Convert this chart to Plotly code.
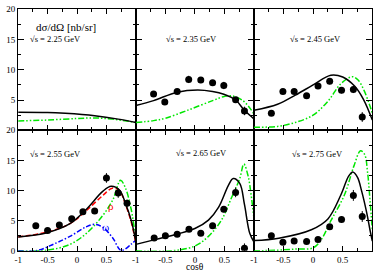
import plotly.graph_objects as go

# ---------------- data ----------------
energies = ["2.25", "2.35", "2.45", "2.55", "2.65", "2.75"]

# data points (cos theta, dsigma/dOmega, error)
pts2_x = [-0.70, -0.51, -0.30, -0.105, 0.10, 0.30, 0.49, 0.69, 0.84]
pts2_y = [6.0, 4.67, 6.4, 8.4, 8.3, 7.85, 7.4, 5.05, 3.2]
pts2_e = [0.4, 0.4, 0.4, 0.6, 0.5, 0.4, 0.6, 0.4, 0.7]

pts3_x = [-0.705, -0.51, -0.32, -0.11, 0.083, 0.28, 0.48, 0.68, 0.83]
pts3_y = [2.8, 6.4, 6.4, 5.7, 7.3, 8.1, 6.6, 6.75, 2.2]
pts3_e = [0.4, 0.4, 0.4, 0.4, 0.4, 0.5, 0.5, 0.6, 0.8]

pts4_x = [-0.70, -0.50, -0.30, -0.09, 0.10, 0.30, 0.50, 0.70, 0.85]
pts4_y = [4.16, 3.36, 4.27, 5.33, 6.5, 6.6, 12.1, 9.6, 7.9]
pts4_e = [0.3, 0.3, 0.3, 0.4, 0.4, 0.4, 0.8, 0.8, 0.6]

pts5_x = [-0.69, -0.50, -0.30, -0.10, 0.10, 0.30, 0.49, 0.69, 0.84]
pts5_y = [2.13, 2.5, 2.77, 3.6, 2.9, 4.16, 6.9, 9.7, 0.43]
pts5_e = [0.3, 0.3, 0.3, 0.4, 0.4, 0.4, 0.5, 0.8, 0.8]

pts6_x = [-0.705, -0.51, -0.32, -0.11, 0.083, 0.28, 0.48, 0.68, 0.83]
pts6_y = [2.5, 1.44, 1.65, 1.55, 1.87, 4.0, 5.2, 9.2, 5.7]
pts6_e = [0.3, 0.3, 0.3, 0.3, 0.3, 0.4, 0.5, 0.9, 0.9]

# model curves
blk1_x = [-1, -0.5, -0.2, 0.3, 0.7, 1]
blk1_y = [3.0, 2.95, 2.8, 2.4, 1.85, 1.3]
grn1_x = [-1, -0.5, 0, 0.3, 0.6, 1]
grn1_y = [1.55, 1.7, 1.95, 2.05, 1.85, 1.3]

blk2_x = [-1, -0.7, -0.3, 0.05, 0.3, 0.49, 0.69, 0.84, 1]
blk2_y = [4.1, 4.9, 6.3, 6.65, 6.4, 5.95, 5.0, 3.3, 1.9]
grn2_x = [-1, -0.7, -0.5, -0.1, 0.3, 0.5, 0.62, 0.8, 0.93, 1]
grn2_y = [1.3, 1.6, 2.0, 3.4, 4.9, 5.6, 5.7, 5.0, 3.7, 2.7]

blk3_x = [-1, -0.6, -0.3, 0, 0.3, 0.5, 0.7, 0.85, 1]
blk3_y = [3.3, 4.3, 5.8, 7.5, 9.1, 8.8, 7.3, 5.1, 1.7]
grn3_x = [-1, -0.6, -0.3, 0, 0.25, 0.47, 0.66, 0.76, 0.86, 0.95, 1]
grn3_y = [0.5, 0.65, 1.3, 2.5, 4.8, 7.7, 8.85, 8.3, 6.6, 4.3, 2.8]

blk4_x = [-1, -0.51, -0.12, 0.16, 0.44, 0.58, 0.72, 0.83, 0.92, 1]
blk4_y = [2.3, 3.0, 4.5, 6.9, 9.9, 10.7, 10.1, 7.7, 5.1, 1.5]
red4_x = [-1, -0.51, -0.12, 0.16, 0.44, 0.6, 0.72, 0.83, 0.92, 1]
red4_y = [2.3, 3.1, 4.5, 6.7, 9.2, 10.4, 10.0, 7.5, 4.8, 1.3]
blu4_x = [-1, -0.68, -0.4, -0.12, 0.16, 0.3, 0.44, 0.61, 0.75, 0.92, 1]
blu4_y = [0, 0.05, 1.1, 2.4, 4.0, 4.4, 3.9, 2.1, 0.05, 1.1, 1.8]
grn4_x = [-1, -0.51, -0.12, 0.16, 0.44, 0.61, 0.74, 0.82, 0.92, 1]
grn4_y = [0, 0.1, 1.07, 2.9, 5.9, 8.5, 11.7, 10.5, 6.9, 1.8]

blk5_x = [-1, -0.66, -0.33, 0.0, 0.23, 0.4, 0.57, 0.65, 0.76, 0.84, 0.93, 1]
blk5_y = [1.07, 1.9, 2.7, 3.7, 5.1, 7.2, 10.9, 12.0, 11.2, 7.7, 2.9, 1.5]
grn5_x = [-1, -0.39, 0.0, 0.23, 0.45, 0.62, 0.76, 0.83, 0.9, 0.95, 1]
grn5_y = [0, 0, 0.8, 2.4, 5.1, 8.8, 12.0, 14.4, 12.5, 9.5, 5.5]

blk6_x = [-1, -0.58, -0.03, 0.25, 0.47, 0.6, 0.67, 0.75, 0.82, 0.91, 0.96, 1]
blk6_y = [1.7, 2.1, 3.5, 5.3, 9.3, 12.4, 13.1, 12.2, 9.9, 6.1, 3.5, 1.6]
grn6_x = [-1, -0.6, -0.3, 0, 0.14, 0.3, 0.53, 0.69, 0.8, 0.87, 0.92, 0.96, 1]
grn6_y = [0, 0.1, 0.3, 0.5, 1.9, 5.0, 9.3, 14.1, 16.6, 16.0, 13.0, 8.5, 3.5]

x_tickvals = [-1, -0.5, 0, 0.5, 1]
x_ticktext_mid = ["-1", "-0.5", "0", "0.5", ""]
x_ticktext_last = ["-1", "-0.5", "0", "0.5", "1"]
y_tickvals = [0, 5, 10, 15, 20]
y_ticktext_top = ["", "5", "10", "15", "20"]
y_ticktext_bot = ["0", "5", "10", "15", "20"]

# ---------------- figure ----------------
FONT = "Liberation Serif, Times New Roman, serif"
GREEN = "#00e600"
GDASH = "6px,2px,1.5px,2px,1.5px,2px"
BDASH = "5px,2px,1.5px,2px"
RDASH = "5px,2.5px"

curves = [
    [(grn1_x, grn1_y, GREEN, GDASH), (blk1_x, blk1_y, "black", "solid")],
    [(grn2_x, grn2_y, GREEN, GDASH), (blk2_x, blk2_y, "black", "solid")],
    [(grn3_x, grn3_y, GREEN, GDASH), (blk3_x, blk3_y, "black", "solid")],
    [(grn4_x, grn4_y, GREEN, GDASH), (blu4_x, blu4_y, "#0000ff", BDASH),
     (red4_x, red4_y, "#ff0000", RDASH), (blk4_x, blk4_y, "black", "solid")],
    [(grn5_x, grn5_y, GREEN, GDASH), (blk5_x, blk5_y, "black", "solid")],
    [(grn6_x, grn6_y, GREEN, GDASH), (blk6_x, blk6_y, "black", "solid")],
]
points = [None,
          (pts2_x, pts2_y, pts2_e),
          (pts3_x, pts3_y, pts3_e),
          (pts4_x, pts4_y, pts4_e),
          (pts5_x, pts5_y, pts5_e),
          (pts6_x, pts6_y, pts6_e)]

W, H = 374, 278
xdom = [[14.3 / W, 133.3 / W], [133.3 / W, 252.6 / W], [252.6 / W, 372.3 / W]]
ydom = [[1 - 130 / H, 1 - 4.3 / H], [1 - 255 / H, 1 - 130 / H]]

fig = go.Figure()
for i in range(6):
    xa = "x" if i == 0 else f"x{i+1}"
    ya = "y" if i == 0 else f"y{i+1}"
    for cx, cy, col, dash in curves[i]:
        fig.add_trace(go.Scatter(x=cx, y=cy, xaxis=xa, yaxis=ya, mode="lines",
                                 line=dict(color=col, width=1.5, dash=dash, shape="spline", smoothing=1.0),
                                 showlegend=False, hoverinfo="skip"))
    if points[i] is not None:
        px, py, pe = points[i]
        fig.add_trace(go.Scatter(x=px, y=py, xaxis=xa, yaxis=ya, mode="markers",
                                 marker=dict(color="black", size=7),
                                 error_y=dict(type="data", array=pe, color="black", thickness=1, width=0),
                                 showlegend=False, hoverinfo="skip"))

layout = dict(width=W, height=H, margin=dict(l=0, r=0, t=0, b=0),
              paper_bgcolor="white", plot_bgcolor="white",
              font=dict(family=FONT, size=9, color="black"))
for i in range(6):
    row, col = divmod(i, 3)
    xk = "xaxis" if i == 0 else f"xaxis{i+1}"
    yk = "yaxis" if i == 0 else f"yaxis{i+1}"
    xa = "x" if i == 0 else f"x{i+1}"
    ya = "y" if i == 0 else f"y{i+1}"
    layout[xk] = dict(domain=xdom[col], anchor=ya, range=[-1, 1],
                      showgrid=False, zeroline=False, showline=True, linecolor="black", linewidth=1,
                      mirror="ticks", ticks="inside", ticklen=5, tickcolor="black",
                      tickvals=x_tickvals,
                      ticktext=(x_ticktext_last if col == 2 else x_ticktext_mid),
                      showticklabels=(row == 1),
                      tickfont=dict(family=FONT, size=9),
                      minor=dict(ticks="inside", dtick=0.25, tick0=-1, ticklen=3, tickcolor="black"))
    layout[yk] = dict(domain=ydom[row], anchor=xa, range=[0, 20],
                      showgrid=False, zeroline=False, showline=True, linecolor="black", linewidth=1,
                      mirror="ticks", ticks="inside", ticklen=6, tickcolor="black",
                      tickvals=y_tickvals,
                      ticktext=(y_ticktext_top if row == 0 else y_ticktext_bot),
                      showticklabels=(col == 0),
                      tickfont=dict(family=FONT, size=9),
                      minor=dict(ticks="inside", dtick=2.5, tick0=0, ticklen=3, tickcolor="black"))
fig.update_layout(**layout)

label_pos = [(-0.37, 15.1), (-0.05, 15.1), (0.045, 15.1), (-0.37, 16.0), (0.12, 16.3), (0.08, 16.0)]
for i, e in enumerate(energies):
    xa = "x" if i == 0 else f"x{i+1}"
    ya = "y" if i == 0 else f"y{i+1}"
    lx, ly = label_pos[i]
    fig.add_annotation(x=lx, y=ly, xref=xa, yref=ya, text=f"√s = {e} GeV", showarrow=False,
                       xanchor="center", yanchor="middle",
                       font=dict(family=FONT, size=8.5, color="black"))

fig.add_annotation(x=-0.18, y=17.0, xref="x", yref="y", text="dσ/dΩ [nb/sr]", showarrow=False,
                   xanchor="center", yanchor="middle",
                   font=dict(family=FONT, size=11, color="black"))
fig.add_annotation(x=0.58, y=7.4, xref="x4", yref="y4", text="ρ", showarrow=False,
                   xanchor="center", yanchor="middle",
                   font=dict(family=FONT, size=11, color="#ff0000"))
fig.add_annotation(x=0.49, y=4.0, xref="x4", yref="y4", text="ω", showarrow=False,
                   xanchor="center", yanchor="middle",
                   font=dict(family=FONT, size=11, color="#0000ff"))
fig.add_annotation(x=193 / W, y=0, xref="paper", yref="paper", text="cosθ", showarrow=False,
                   xanchor="center", yanchor="bottom", borderpad=0,
                   font=dict(family=FONT, size=9.5, color="black"))

fig.write_html("out.html", config={"displayModeBar": False},
               post_script="document.body.style.margin='0';document.body.style.padding='0';")
